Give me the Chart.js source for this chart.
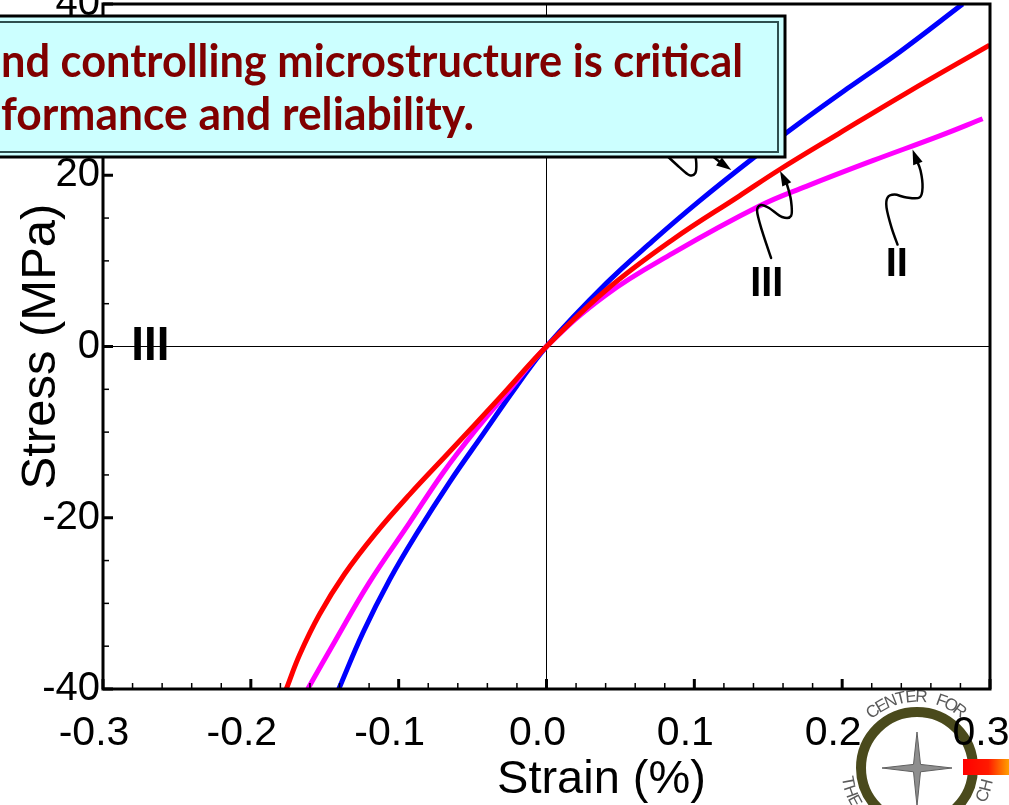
<!DOCTYPE html>
<html>
<head>
<meta charset="utf-8">
<script src="https://cdn.jsdelivr.net/npm/chart.js@4.4.0/dist/chart.umd.min.js"></script>
<style>
  html, body { margin: 0; padding: 0; background: #fff; }
  #wrap { width: 1009px; height: 805px; position: relative; overflow: hidden; }
</style>
</head>
<body>
<div id="wrap"><canvas id="chart" width="1009" height="805"></canvas></div>
<script>
// stress-strain curves, strain in %, stress in MPa
const blueStrain = [-0.1405, -0.1241, -0.106, -0.088, -0.0654, -0.0428, -0.0205, 0, 0.0406, 0.0717, 0.1035, 0.1394, 0.1712, 0.205, 0.2389, 0.2815];
const blueStress = [-40, -33.4, -27.2, -21.9, -15.8, -10.2, -4.7, 0, 7.4, 12.3, 17.0, 21.95, 26.1, 30.3, 34.4, 40];

const magentaStrain = [-0.1615, -0.1427, -0.120, -0.0927, -0.0702, -0.0476, -0.025, 0, 0.04, 0.0855, 0.144, 0.1757, 0.2206, 0.2659, 0.295];
const magentaStress = [-40, -34.3, -27.6, -20.6, -14.8, -9.7, -5.06, 0, 6.0, 10.9, 16.4, 18.7, 21.7, 24.6, 26.6];

const redStrain = [-0.176, -0.167, -0.1536, -0.1367, -0.1164, -0.0927, -0.0656, -0.0318, 0, 0.0404, 0.0855, 0.1306, 0.158, 0.198, 0.2434, 0.2997];
const redStress = [-40, -36.0, -31.3, -26.6, -22.0, -17.3, -12.3, -6.0, 0, 6.6, 12.5, 17.6, 20.7, 24.9, 29.6, 35.2];

const xTicks = [-0.3, -0.2, -0.1, 0.0, 0.1, 0.2, 0.3];
const yTicks = [-40, -20, 0, 20, 40];

const xTitle = "Strain (%)";
const yTitle = "Stress (MPa)";
const boxLines = ["nd controlling microstructure is critical", "formance and reliability."];

function toPoints(xs, ys) {
    return xs.map((x, i) => ({x: x, y: ys[i]}));
}

function smoothPath(ctx, pts) {
    ctx.beginPath();
    ctx.moveTo(pts[0][0], pts[0][1]);
    for (let i = 0; i < pts.length - 1; i++) {
        let p0 = pts[i - 1] || pts[i];
        let p1 = pts[i];
        let p2 = pts[i + 1];
        let p3 = pts[i + 2] || p2;
        ctx.bezierCurveTo(p1[0] + (p2[0] - p0[0]) / 6, p1[1] + (p2[1] - p0[1]) / 6,
                          p2[0] - (p3[0] - p1[0]) / 6, p2[1] - (p3[1] - p1[1]) / 6,
                          p2[0], p2[1]);
    }
    ctx.stroke();
}

function arrowHead(ctx, from, tip) {
    let a = Math.atan2(tip[1] - from[1], tip[0] - from[0]);
    let len = 15, half = 5;
    ctx.beginPath();
    ctx.moveTo(tip[0], tip[1]);
    ctx.lineTo(tip[0] - len * Math.cos(a) + half * Math.sin(a), tip[1] - len * Math.sin(a) - half * Math.cos(a));
    ctx.lineTo(tip[0] - len * Math.cos(a) - half * Math.sin(a), tip[1] - len * Math.sin(a) + half * Math.cos(a));
    ctx.closePath();
    ctx.fill();
}

// squiggly pointer, anchored on a data point, offsets in px
function pointer(chart, sx, sy, offsets, withHead) {
    const ctx = chart.ctx;
    let tx = chart.scales.x.getPixelForValue(sx);
    let ty = chart.scales.y.getPixelForValue(sy);
    let pts = offsets.map(o => [tx + o[0], ty + o[1]]);
    let tip = [tx, ty];
    ctx.save();
    ctx.strokeStyle = "#000";
    ctx.fillStyle = "#000";
    ctx.lineWidth = 2.5;
    ctx.lineCap = "round";
    if (withHead) {
        let last = pts[pts.length - 1];
        let a = Math.atan2(tip[1] - last[1], tip[0] - last[0]);
        pts.push([tip[0] - 10 * Math.cos(a), tip[1] - 10 * Math.sin(a)]);
        smoothPath(ctx, pts);
        arrowHead(ctx, last, tip);
    } else {
        smoothPath(ctx, pts);
    }
    ctx.restore();
}

function textOnArc(ctx, text, cx, cy, r, startDeg, stepDeg, outward) {
    for (let i = 0; i < text.length; i++) {
        let a = (startDeg + i * stepDeg) * Math.PI / 180;
        ctx.save();
        ctx.translate(cx + r * Math.cos(a), cy + r * Math.sin(a));
        ctx.rotate(outward ? a + Math.PI / 2 : a - Math.PI / 2);
        ctx.fillText(text[i], 0, 0);
        ctx.restore();
    }
}

const logoPlugin = {
    id: "logo",
    beforeDraw(chart) {
        const ctx = chart.ctx;
        ctx.save();
        ctx.fillStyle = "#fff";
        ctx.fillRect(0, 0, chart.width, chart.height);

        let cx = 917, cy = 768;
        ctx.strokeStyle = "#4a4a1c";
        ctx.lineWidth = 10;
        ctx.beginPath();
        ctx.arc(cx, cy, 56, 0, Math.PI * 2);
        ctx.stroke();

        // four point star
        ctx.fillStyle = "#8e8e8e";
        ctx.strokeStyle = "#606060";
        ctx.lineWidth = 1;
        ctx.beginPath();
        let arms = [[0, -36], [35, 0], [0, 38], [-35, 0]];
        for (let i = 0; i < 4; i++) {
            let p = arms[i];
            let n = arms[(i + 1) % 4];
            ctx.lineTo(cx + p[0], cy + p[1]);
            ctx.lineTo(cx + (p[0] + n[0]) * 0.1, cy + (p[1] + n[1]) * 0.1);
        }
        ctx.closePath();
        ctx.fill();
        ctx.stroke();

        ctx.fillStyle = "#5a5a5a";
        ctx.font = "17px 'Liberation Sans', Arial, sans-serif";
        ctx.textAlign = "center";
        ctx.textBaseline = "middle";
        textOnArc(ctx, "CENTER FOR", cx, cy, 71, -128, 8.3, true);
        textOnArc(ctx, "THE", cx, cy, 71, 169, -8.5, false);
        textOnArc(ctx, "CH", cx, cy, 72, 23, -9, false);

        let g = ctx.createLinearGradient(963, 0, 1009, 0);
        g.addColorStop(0, "#ff0000");
        g.addColorStop(0.55, "#ff1a00");
        g.addColorStop(1, "#ffa000");
        ctx.fillStyle = g;
        ctx.fillRect(963, 759, 46, 16);
        ctx.restore();
    }
};

const decorPlugin = {
    id: "decor",
    afterDraw(chart) {
        const ctx = chart.ctx;
        const xs = chart.scales.x;
        const ys = chart.scales.y;
        const area = chart.chartArea;

        ctx.save();
        // inward ticks
        ctx.strokeStyle = "#000";
        for (let i = 0; i <= 30; i++) {
            let px = xs.getPixelForValue(-0.3 + i * 0.02);
            let major = i % 5 == 0;
            ctx.lineWidth = major ? 3 : 1.5;
            ctx.beginPath();
            ctx.moveTo(px, area.bottom);
            ctx.lineTo(px, area.bottom - (major ? 10 : 6));
            ctx.stroke();
        }
        for (let v = -40; v <= 40; v += 5) {
            let py = ys.getPixelForValue(v);
            let major = v % 20 == 0;
            ctx.lineWidth = major ? 3 : 1.5;
            ctx.beginPath();
            ctx.moveTo(area.left, py);
            ctx.lineTo(area.left + (major ? 10 : 6), py);
            ctx.stroke();
        }

        // frame
        ctx.lineWidth = 3;
        ctx.strokeRect(area.left, area.top, area.right - area.left, area.bottom - area.top);

        // x axis title, sits right of centre in the original
        ctx.fillStyle = "#000";
        ctx.textAlign = "center";
        ctx.textBaseline = "middle";
        ctx.font = "47px 'Liberation Sans', Arial, sans-serif";
        ctx.fillText(xTitle, (area.left + area.right) / 2 + 55, 780);

        // pointers and labels
        pointer(chart, 0.158, 20.5, [[-9, 87], [-18, 60], [-23, 40], [-19, 34], [-11, 37], [2, 46], [11, 45], [11, 30], [7, 14]], true);
        pointer(chart, 0.2476, 23.0, [[-15, 95], [-21, 78], [-26, 58], [-25, 48], [-18, 45], [-6, 48], [7, 48], [10, 38], [8, 21]], true);
        pointer(chart, 0.125, 20.6, [[-20, -15], [-10, -7]], true);
        pointer(chart, 0.125, 20.6, [[-65, -15], [-52, -3], [-42, 5], [-36, 3], [-35, -7], [-37, -22]], false);

        ctx.font = "bold 48px 'Liberation Sans', Arial, sans-serif";
        ctx.fillText("III", xs.getPixelForValue(-0.268), ys.getPixelForValue(0), 38);
        ctx.font = "bold 42px 'Liberation Sans', Arial, sans-serif";
        ctx.fillText("III", xs.getPixelForValue(0.149), ys.getPixelForValue(7.3), 33);
        ctx.font = "bold 40px 'Liberation Sans', Arial, sans-serif";
        ctx.fillText("II", xs.getPixelForValue(0.237), ys.getPixelForValue(9.5), 23);

        // callout box
        ctx.fillStyle = "#ccffff";
        ctx.fillRect(-10, 16, 795, 141);
        ctx.strokeStyle = "#000";
        ctx.lineWidth = 3;
        ctx.strokeRect(-10, 16, 795, 141);
        ctx.strokeStyle = "#2f4f4f";
        ctx.lineWidth = 2;
        ctx.strokeRect(-10, 22, 788, 130);

        ctx.fillStyle = "#800000";
        ctx.textAlign = "left";
        ctx.textBaseline = "alphabetic";
        ctx.font = "bold 45px Lato, 'Open Sans', sans-serif";
        ctx.fillText(boxLines[0], 1, 77, 742);
        ctx.fillText(boxLines[1], 1, 130, 473);
        ctx.restore();
    }
};

const isZero = v => Math.abs(v) < 1e-9;

function curve(label, xs, ys, color) {
    return {
        label: label,
        data: toPoints(xs, ys),
        borderColor: color,
        borderWidth: 5,
        pointRadius: 0,
        tension: 0.4,
        fill: false
    };
}

new Chart(document.getElementById("chart"), {
    type: "line",
    data: {
        datasets: [
            curve("III", redStrain, redStress, "#ff0000"),
            curve("II", magentaStrain, magentaStress, "#ff00ff"),
            curve("I", blueStrain, blueStress, "#0000ff")
        ]
    },
    options: {
        responsive: false,
        animation: false,
        devicePixelRatio: 1,
        layout: { padding: { top: 4, right: 19, left: 0, bottom: 0 } },
        plugins: {
            legend: { display: false },
            tooltip: { enabled: false }
        },
        scales: {
            x: {
                type: "linear",
                min: xTicks[0],
                max: xTicks[xTicks.length - 1],
                afterBuildTicks: (scale) => { scale.ticks = xTicks.map(v => ({value: v})); },
                afterFit: (scale) => {
                    scale.height = 116;
                    scale.paddingLeft = 0;
                    scale.paddingRight = 0;
                },
                grid: {
                    drawTicks: false,
                    color: (c) => isZero(c.tick.value) ? "#000" : "rgba(0,0,0,0)",
                    lineWidth: 1
                },
                border: { display: false },
                ticks: {
                    padding: 20,
                    labelOffset: -9,
                    maxRotation: 0,
                    autoSkip: false,
                    color: "#000",
                    font: { family: "'Liberation Sans', Arial, sans-serif", size: 41 },
                    callback: (v) => isZero(v) ? "0.0" : v.toFixed(1)
                }
            },
            y: {
                type: "linear",
                min: yTicks[0],
                max: yTicks[yTicks.length - 1],
                afterBuildTicks: (scale) => { scale.ticks = yTicks.map(v => ({value: v})); },
                afterFit: (scale) => {
                    scale.width = 103;
                    scale.paddingTop = 0;
                    scale.paddingBottom = 0;
                },
                grid: {
                    drawTicks: false,
                    color: (c) => isZero(c.tick.value) ? "#000" : "rgba(0,0,0,0)",
                    lineWidth: 1
                },
                border: { display: false },
                ticks: {
                    padding: 3,
                    color: "#000",
                    font: { family: "'Liberation Sans', Arial, sans-serif", size: 40 }
                },
                title: {
                    display: true,
                    text: yTitle,
                    color: "#000",
                    font: { family: "'Liberation Sans', Arial, sans-serif", size: 49, lineHeight: 1.2 },
                    padding: { top: 12, bottom: 0 }
                }
            }
        }
    },
    plugins: [logoPlugin, decorPlugin]
});
</script>
</body>
</html>
